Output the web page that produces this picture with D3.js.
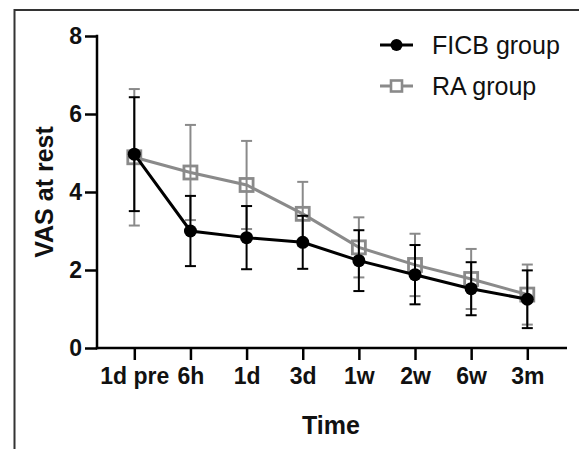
<!DOCTYPE html>
<html><head><meta charset="utf-8">
<script src="https://cdn.jsdelivr.net/npm/d3@7"></script>
<style>html,body{margin:0;padding:0;background:#fff;}svg{display:block;font-family:"Liberation Sans",Arial,sans-serif;}</style>
</head><body>
<svg id="c" width="579" height="449"></svg>
<script>
const categories = ["1d pre","6h","1d","3d","1w","2w","6w","3m"];
const ficbMean = [4.97, 3.00, 2.83, 2.71, 2.24, 1.88, 1.52, 1.25];
const ficbSD   = [1.46, 0.90, 0.81, 0.68, 0.78, 0.76, 0.68, 0.74];
const raMean   = [4.89, 4.50, 4.18, 3.44, 2.58, 2.13, 1.77, 1.37];
const raSD     = [1.75, 1.22, 1.13, 0.82, 0.77, 0.80, 0.77, 0.77];
const yTicks = [0, 2, 4, 6, 8];
const seriesNames = ["FICB group", "RA group"];

const svg = d3.select("#c");
// outer frame
svg.append("path").attr("d","M14.5,449 L14.5,10 L579,10").attr("fill","none").attr("stroke","#333").attr("stroke-width",2);

const x = d3.scalePoint().domain(categories).range([134.3, 527.3]);
const y = d3.scaleLinear().domain([0, 8]).range([348, 36]);
const axisLeft = 97, axisRight = 567;

// y axis
const ya = svg.append("g").attr("transform", `translate(${axisLeft},0)`)
  .call(d3.axisLeft(y).tickValues(yTicks).tickSize(12).tickPadding(3).tickFormat(d3.format("d")));
ya.select(".domain").remove();
ya.selectAll(".tick line").attr("stroke","#000").attr("stroke-width",2.5);
ya.selectAll(".tick text").attr("font-size",23).attr("font-weight","bold").attr("fill","#111");
svg.append("line").attr("x1",axisLeft).attr("x2",axisLeft).attr("y1",y(8)-1.2).attr("y2",y(0)+1.2).attr("stroke","#000").attr("stroke-width",2.5);

// x axis
const xa = svg.append("g").attr("transform", `translate(0,${y(0)})`)
  .call(d3.axisBottom(x).tickSize(12).tickPadding(8));
xa.select(".domain").remove();
xa.selectAll(".tick line").attr("stroke","#000").attr("stroke-width",2.5);
xa.selectAll(".tick text").attr("font-size",23).attr("font-weight","bold").attr("fill","#111");
svg.append("line").attr("x1",axisLeft-1.2).attr("x2",axisRight).attr("y1",y(0)).attr("y2",y(0)).attr("stroke","#000").attr("stroke-width",2.5);

// axis titles
svg.append("text").attr("x",331).attr("y",434).attr("text-anchor","middle").attr("font-size",25).attr("font-weight","bold").attr("fill","#111").text("Time");
svg.append("text").attr("transform","translate(53,192) rotate(-90)").attr("text-anchor","middle").attr("font-size",25).attr("font-weight","bold").attr("fill","#111").text("VAS at rest");

const grey = "#8a8a8a";
function drawSeries(mean, sd, color, lw, marker) {
  const g = svg.append("g");
  const data = categories.map((c,i)=>({c, m:mean[i], s:sd[i]}));
  data.forEach(d=>{
    const cx = x(d.c);
    g.append("line").attr("x1",cx).attr("x2",cx).attr("y1",y(d.m+d.s)).attr("y2",y(d.m-d.s)).attr("stroke",color).attr("stroke-width",2);
    [d.m+d.s, d.m-d.s].forEach(v=>{
      g.append("line").attr("x1",cx-5.5).attr("x2",cx+5.5).attr("y1",y(v)).attr("y2",y(v)).attr("stroke",color).attr("stroke-width",2);
    });
  });
  g.append("path").datum(data).attr("d", d3.line().x(d=>x(d.c)).y(d=>y(d.m)))
    .attr("fill","none").attr("stroke",color).attr("stroke-width",lw);
  data.forEach(d=>{
    if (marker==="circle") g.append("circle").attr("cx",x(d.c)).attr("cy",y(d.m)).attr("r",6.5).attr("fill",color);
    else g.append("rect").attr("x",x(d.c)-6.5).attr("y",y(d.m)-6.5).attr("width",13).attr("height",13).attr("fill","none").attr("stroke",color).attr("stroke-width",2.8);
  });
}
drawSeries(raMean, raSD, grey, 3, "square");
drawSeries(ficbMean, ficbSD, "#000", 3, "circle");

// legend
const leg = [{name:seriesNames[0], color:"#000", marker:"circle", y:45},{name:seriesNames[1], color:grey, marker:"square", y:86}];
leg.forEach(l=>{
  svg.append("line").attr("x1",380).attr("x2",413).attr("y1",l.y).attr("y2",l.y).attr("stroke",l.color).attr("stroke-width",3);
  if (l.marker==="circle") svg.append("circle").attr("cx",396.5).attr("cy",l.y).attr("r",6).attr("fill",l.color);
  else svg.append("rect").attr("x",391).attr("y",l.y-5.5).attr("width",11).attr("height",11).attr("fill","#fff").attr("stroke",l.color).attr("stroke-width",2.6);
  svg.append("text").attr("x",432).attr("y",l.y+9).attr("font-size",25).attr("fill","#111").text(l.name);
});
</script>
</body></html>
